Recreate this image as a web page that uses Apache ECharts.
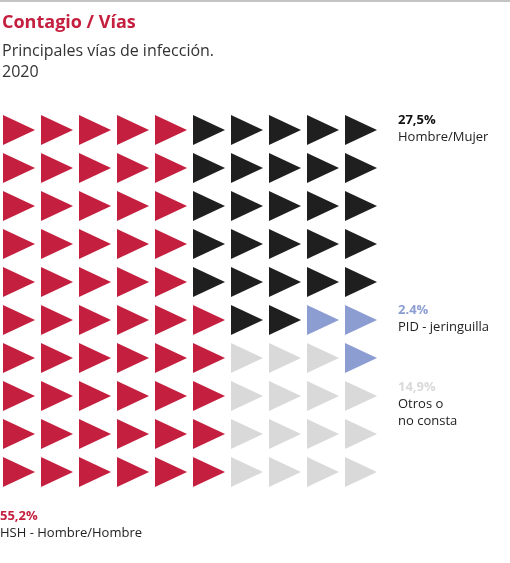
<!DOCTYPE html><html><head><meta charset="utf-8"><script src="https://cdn.jsdelivr.net/npm/echarts@6/dist/echarts.min.js"></script>
<style>body{margin:0}#c{width:510px;height:563px}</style></head><body><div id="c"></div><script>
const categories=['HSH - Hombre/Hombre','Hombre/Mujer','PID - jeringuilla','Otros o no consta'];
const percents=['55,2%','27,5%','2.4%','14,9%'];
const colors=['#c41f3e','#1f1f1f','#8c9dd2','#d9d9d9'];
// cell category per row (top to bottom), 0..3 indexes into categories
const rows=['0000011111','0000011111','0000011111','0000011111','0000011111','0000001122','0000003332','0000003333','0000003333','0000003333'];
const series=categories.map((n,k)=>{const d=[];rows.forEach((r,y)=>{[...r].forEach((c,x)=>{if(+c===k)d.push([x,y]);});});
return {type:'scatter',name:n,data:d,symbol:'triangle',symbolRotate:-90,symbolSize:[30,32],itemStyle:{color:colors[k],opacity:1},silent:true};});
const ch=echarts.init(document.getElementById('c'));
const t=(x,y,s,sz,col,w)=>({type:'text',left:x,top:y,style:{text:s,font:(w||'normal')+' '+sz+'px "Open Sans", sans-serif',fill:col}});
ch.setOption({animation:false,
grid:{left:19,top:130,width:342,height:342},
xAxis:{type:'value',min:0,max:9,show:false},
yAxis:{type:'value',min:0,max:9,inverse:true,show:false},
series,
graphic:[
{type:'line',shape:{x1:0,y1:1,x2:510,y2:1},style:{stroke:'#888',lineWidth:1}},
t(2,14,'Contagio / Vías',18,colors[0],'bold'),
t(2,43,'Principales vías de infección.',16,'#333'),
t(2,64,'2020',16,'#333'),
t(398,114,percents[1],13,'#111','bold'),
t(398,131,categories[1],13,'#222'),
t(398,304,percents[2],13,colors[2],'bold'),
t(398,321,'PID - jeringuilla',13,'#222'),
t(398,381,percents[3],13,colors[3],'bold'),
t(398,398,'Otros o',13,'#222'),
t(398,415,'no consta',13,'#222'),
t(0,510,percents[0],13,colors[0],'bold'),
t(0,527,categories[0],13,'#222')
]});
</script></body></html>
